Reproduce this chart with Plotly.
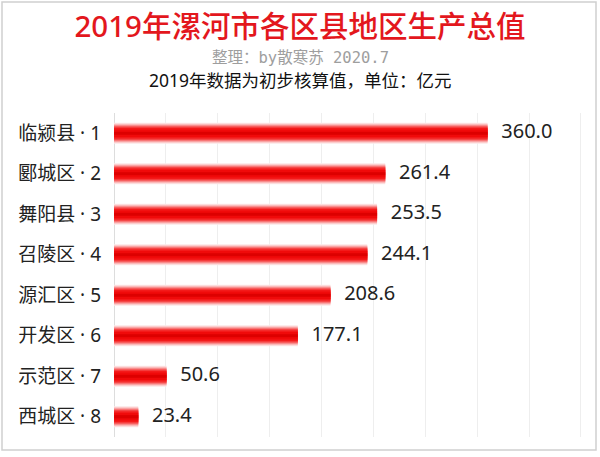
import plotly.graph_objects as go

regions = ['临颍县', '郾城区', '舞阳县', '召陵区', '源汇区', '开发区', '示范区', '西城区']
ranks = [1, 2, 3, 4, 5, 6, 7, 8]
gdp = [360.0, 261.4, 253.5, 244.1, 208.6, 177.1, 50.6, 23.4]

labels = [f'{r} · {k}' for r, k in zip(regions, ranks)]

FONT = 'Noto Sans, Noto Sans CJK SC'
fig = go.Figure()

# gradient bars built from overlaid layers (outer pale -> inner saturated)
layers = [
    (0.52, '#fde6e6'),
    (0.47, '#fbc4c4'),
    (0.42, '#f99a9a'),
    (0.37, '#f76a6a'),
    (0.32, '#f53c3c'),
    (0.26, '#f41a1a'),
    (0.18, '#f00a0a'),
    (0.08, '#dd0000'),
]
for i, (w, c) in enumerate(layers):
    fig.add_trace(go.Bar(
        x=gdp, y=labels, orientation='h', width=w,
        marker=dict(color=c, line=dict(width=0)),
        hoverinfo='skip', showlegend=False,
    ))

# value labels
fig.add_trace(go.Scatter(
    x=gdp, y=labels, mode='text',
    text=['\u00a0\u00a0\u2009' + f'{v:.1f}' for v in gdp],
    textposition='middle right',
    textfont=dict(family=FONT, size=20, color='#222222'),
    cliponaxis=False, hoverinfo='skip', showlegend=False,
))

fig.update_layout(
    width=600, height=457,
    barmode='overlay',
    paper_bgcolor='white', plot_bgcolor='white',
    margin=dict(l=114, r=18, t=113, b=20, autoexpand=False),
    font=dict(family=FONT, color='#222222'),
    title=dict(text='2019年漯河市各区县地区生产总值', x=0.5, xref='container',
               y=1 - 27 / 457, yref='container', xanchor='center', yanchor='middle',
               font=dict(family=FONT, size=29.5, color='#e3171d', weight=500)),
    xaxis=dict(range=[0, 451], dtick=50, showticklabels=False, showgrid=True,
               gridcolor='#eeeeee', gridwidth=1, zeroline=True, zerolinecolor='#dddddd',
               zerolinewidth=1, fixedrange=True, automargin=False),
    yaxis=dict(autorange='reversed', showgrid=False, ticks='', ticklabelstandoff=12,
               automargin=False,
               tickfont=dict(family=FONT, size=19, color='#222222'), fixedrange=True),
    annotations=[
        dict(text='整理：by散寒苏 2020.7', xref='paper', yref='paper',
             x=(300 - 114) / 468, y=(437 - 58) / 324, xanchor='center', yanchor='middle',
             showarrow=False, font=dict(family='DejaVu Sans Mono, Noto Sans CJK SC', size=15.5, color='#9e9e9e')),
        dict(text='2019年数据为初步核算值，单位：亿元', xref='paper', yref='paper',
             x=(300 - 114) / 468, y=(437 - 80) / 324, xanchor='center', yanchor='middle',
             showarrow=False, font=dict(family=FONT, size=17.5, color='#111111')),
    ],
    shapes=[
        dict(type='rect', xref='paper', yref='paper',
             x0=(2 - 114) / 468, x1=(596 - 114) / 468,
             y0=(437 - 450) / 324, y1=(437 - 2) / 324,
             line=dict(color='#d0d0d0', width=1.5), fillcolor='rgba(0,0,0,0)', layer='above'),
    ],
)

fig.write_html('out.html', config={'displayModeBar': False},
               post_script="document.body.style.margin='0';")
